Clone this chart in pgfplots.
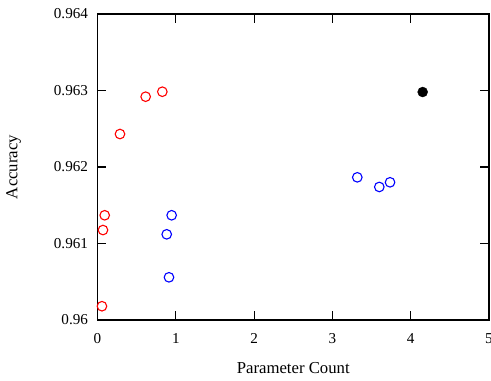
\documentclass[border=0pt]{standalone}
\usepackage{pgfplots}
\pgfplotsset{compat=1.18}
\usepackage{fontspec}
\setmainfont{Liberation Serif}
\begin{document}
\begin{tikzpicture}
\begin{axis}[
  scale only axis,
  width=391.5bp, height=306bp,
  xmin=0, xmax=5, ymin=0.96, ymax=0.964,
  xtick={0,1,2,3,4,5},
  ytick={0.96,0.961,0.962,0.963,0.964},
  scaled y ticks=false,
  yticklabel style={/pgf/number format/fixed,/pgf/number format/precision=3,xshift=-6bp},
  xticklabel style={yshift=-10bp},
  /pgf/number format/assume math mode=true,
  tick align=inside,
  tick pos=both,
  major tick length=9bp,
  axis line style={line width=1.2bp},
  every tick/.style={line width=1.2bp,black},
  tick label style={font=\fontsize{15.2}{18}\selectfont},
  label style={font=\fontsize{16.8}{19}\selectfont},
  xlabel={Parameter Count},
  ylabel={Accuracy},
  xlabel style={yshift=-12bp},
  ylabel style={yshift=26bp},
  clip=false,
]
\addplot[only marks, mark=o, mark size=4.8bp, red, mark options={line width=1.1bp}] coordinates {
  (0.057,0.96018) (0.07,0.961176) (0.092,0.961369) (0.287,0.962431) (0.615,0.962919) (0.828,0.962984)
};
\addplot[only marks, mark=o, mark size=4.8bp, blue, mark options={line width=1.1bp}] coordinates {
  (0.947,0.961369) (0.884,0.96112) (0.913,0.960558) (3.318,0.961865) (3.599,0.961739) (3.736,0.9618)
};
\addplot[only marks, mark=*, mark size=5bp, black] coordinates {
  (4.153,0.96298)
};
\end{axis}
\pgfresetboundingbox
\path ([xshift=-97.5bp,yshift=-61bp]current axis.south west) rectangle ([xshift=2bp,yshift=14bp]current axis.north east);
\end{tikzpicture}
\end{document}
